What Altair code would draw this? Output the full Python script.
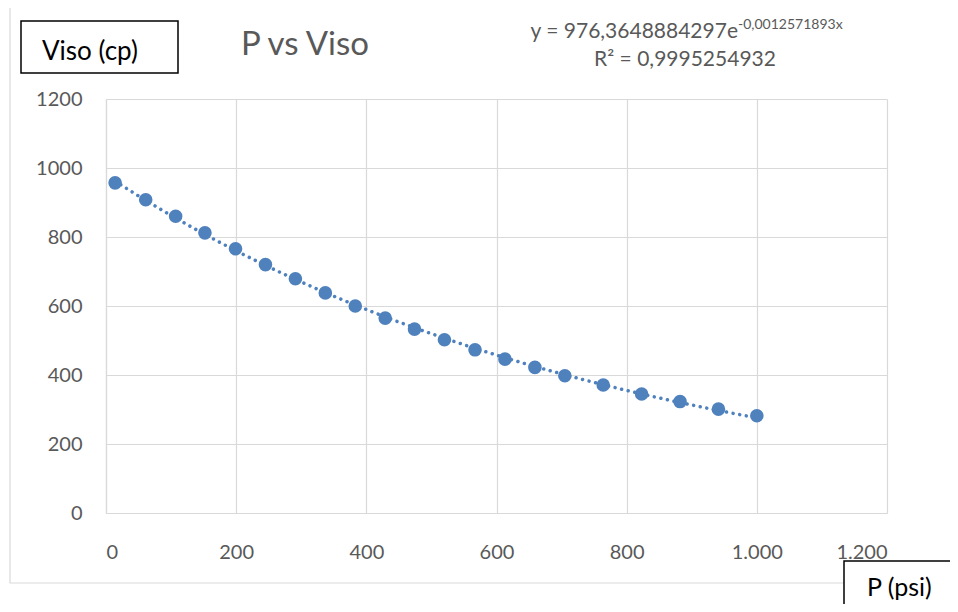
import altair as alt
import pandas as pd

# Data
P = [14, 61, 107, 152, 199, 245, 291, 337, 383, 429, 474, 520, 567, 613, 659, 705, 764, 823, 882, 941, 1000]
VISO = [957, 908, 860, 812, 766, 720, 679, 638, 600, 565, 533, 502, 473, 446, 422, 398, 371, 345, 323, 301, 282]

X_TICKS = [0, 200, 400, 600, 800, 1000, 1200]
Y_TICKS = [0, 200, 400, 600, 800, 1000, 1200]

TITLE = "P vs Viso"
EQ_MAIN = "y = 976,3648884297e"
EQ_EXP = "-0,0012571893x"
EQ_R2 = "R² = 0,9995254932"
Y_LABEL = "Viso (cp)"
X_LABEL = "P (psi)"

df = pd.DataFrame({"P": P, "Viso": VISO})
one = alt.Data(values=[{"a": 1}])

FONT = "Lato"
GREY = "#595959"
BLUE = "#4F81BD"

x_enc = alt.X("P:Q", scale=alt.Scale(domain=[0, 1200], nice=False),
              axis=alt.Axis(values=X_TICKS, labelExpr="replace(format(datum.value, ','), ',', '.')",
                            labelPadding=29, title=None))
y_enc = alt.Y("Viso:Q", scale=alt.Scale(domain=[0, 1200], nice=False),
              axis=alt.Axis(values=Y_TICKS, format="d", labelPadding=24, title=None))

border = alt.Chart(one).mark_rect(fillOpacity=0, stroke="#d9d9d9", strokeWidth=1.2).encode(
    x=alt.value(-96), x2=alt.value(900), y=alt.value(-92), y2=alt.value(484))

trend = alt.Chart(df).transform_regression("P", "Viso", method="exp").mark_line(
    color=BLUE, strokeWidth=3.5, strokeDash=[0.01, 6.7], strokeCap="round").encode(x=x_enc, y=y_enc)

points = alt.Chart(df).mark_circle(size=185, color=BLUE, opacity=1).encode(x=x_enc, y=y_enc)

title = alt.Chart(one).mark_text(text=TITLE, font=FONT, fontSize=33, color=GREY,
                                 align="center", baseline="middle").encode(
    x=alt.value(199), y=alt.value(-54))

eq1 = alt.Chart(one).mark_text(text=EQ_MAIN, font=FONT, fontSize=21, color=GREY,
                               align="right", baseline="middle").encode(
    x=alt.value(632), y=alt.value(-67))
eq_exp = alt.Chart(one).mark_text(text=EQ_EXP, font=FONT, fontSize=14, color=GREY,
                                  align="left", baseline="middle").encode(
    x=alt.value(632), y=alt.value(-74))
eq2 = alt.Chart(one).mark_text(text=EQ_R2, font=FONT, fontSize=21, color=GREY,
                               align="center", baseline="middle").encode(
    x=alt.value(579), y=alt.value(-39))

ybox = alt.Chart(one).mark_rect(fill="white", stroke="black", strokeWidth=1.5).encode(
    x=alt.value(-85), x2=alt.value(72), y=alt.value(-78), y2=alt.value(-26))
ytext = alt.Chart(one).mark_text(text=Y_LABEL, font=FONT, fontSize=26, color="black",
                                 align="left", baseline="middle").encode(
    x=alt.value(-64), y=alt.value(-47))

xbox = alt.Chart(one).mark_rect(fill="white", stroke="black", strokeWidth=1.5).encode(
    x=alt.value(738), x2=alt.value(900), y=alt.value(462), y2=alt.value(600))
xtext = alt.Chart(one).mark_text(text=X_LABEL, font=FONT, fontSize=25, color="black",
                                 align="left", baseline="middle").encode(
    x=alt.value(761), y=alt.value(489))

chart = alt.layer(border, trend, points, title, eq1, eq_exp, eq2, ybox, ytext, xbox, xtext).properties(
    width=781, height=414,
    padding={"left": 98, "top": 91, "right": 63, "bottom": 91},
    autosize=alt.AutoSizeParams(type="none"),
).configure_view(stroke=None).configure_axis(
    domainColor="#d9d9d9", gridColor="#d9d9d9", gridWidth=1.2, domainWidth=1.2,
    ticks=False, labelColor=GREY, labelFont=FONT, labelFontSize=20,
)

chart.save("out.html", embed_options={"renderer": "svg", "actions": False})
